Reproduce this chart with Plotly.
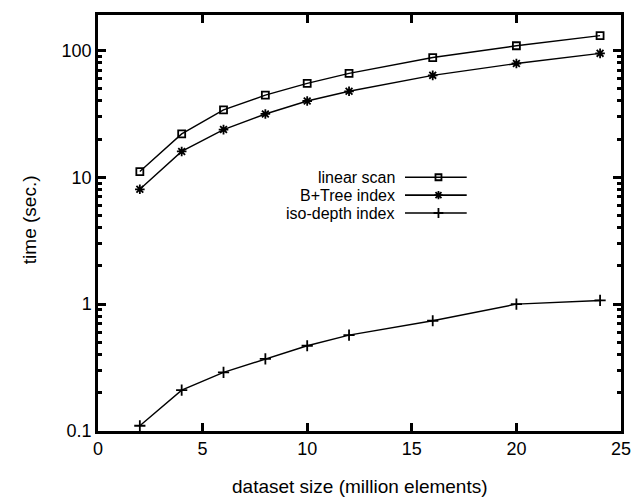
import plotly.graph_objects as go

sizes = [2, 4, 6, 8, 10, 12, 16, 20, 24]
linear_scan = [11.1, 22, 34, 44.5, 55, 66, 88, 109, 131]
btree_index = [8.05, 16, 23.8, 31.6, 40, 47.7, 63.7, 79, 95]
iso_depth_index = [0.11, 0.21, 0.29, 0.37, 0.47, 0.57, 0.74, 1.0, 1.07]
series_names = ["linear scan", "B+Tree index", "iso-depth index"]
y_tick_vals = [0.1, 1, 10, 100]
y_tick_text = ["0.1", "1", "10", "100"]
x_tick_vals = [0, 5, 10, 15, 20, 25]

FONT = "Liberation Sans, Arial, sans-serif"
symbols = ["square-open", "asterisk-open", "cross-thin-open"]
msizes = [7, 8, 8]
series = [linear_scan, btree_index, iso_depth_index]

X_RANGE = [0, 25]
Y_RANGE = [-1, 2.28]  # log10


def px(f):  # paper fraction -> x data
    return X_RANGE[0] + f * (X_RANGE[1] - X_RANGE[0])


def py(f):  # paper fraction -> y data (log axis)
    return 10 ** (Y_RANGE[0] + f * (Y_RANGE[1] - Y_RANGE[0]))


fig = go.Figure()
for name, ys, sym, ms in zip(series_names, series, symbols, msizes):
    fig.add_trace(go.Scatter(
        x=sizes, y=ys, mode="lines+markers", name=name,
        line=dict(color="black", width=1.4),
        marker=dict(symbol=sym, size=ms, color="black",
                    line=dict(color="black", width=1.8)),
        showlegend=False,
    ))

# manual legend: text on the left, line sample on the right
leg_y = [0.610, 0.567, 0.524]
for name, sym, ms, ly in zip(series_names, symbols, msizes, leg_y):
    fig.add_trace(go.Scatter(
        x=[px(0.587), px(0.705)], y=[py(ly), py(ly)], mode="lines",
        line=dict(color="black", width=1.6), showlegend=False, hoverinfo="skip"))
    fig.add_trace(go.Scatter(
        x=[px(0.651)], y=[py(ly)], mode="markers",
        marker=dict(symbol=sym, size=ms - 1, color="black",
                    line=dict(color="black", width=1.8)),
        showlegend=False, hoverinfo="skip"))
    fig.add_annotation(x=0.571, y=ly, xref="paper", yref="paper", text=name,
                       showarrow=False, xanchor="right", yanchor="middle",
                       font=dict(family=FONT, size=16, color="black"))

minor_vals = [v * m for v in [0.1, 1, 10, 100] for m in range(2, 10) if v * m < 190]

fig.update_layout(
    width=643, height=499,
    margin=dict(l=98, r=20, t=12, b=68),
    plot_bgcolor="white", paper_bgcolor="white",
    font=dict(family=FONT, size=18, color="black"),
    xaxis=dict(range=X_RANGE, tickvals=x_tick_vals, ticks="inside", ticklen=8,
               tickwidth=2.5, tickcolor="black", showline=True, linecolor="black",
               linewidth=2.5, mirror="ticks", showgrid=False, zeroline=False,
               tickfont=dict(size=18)),
    yaxis=dict(type="log", range=Y_RANGE, tickvals=y_tick_vals,
               ticktext=y_tick_text, ticks="inside", ticklen=8, tickwidth=2.5,
               tickcolor="black", showline=True, linecolor="black", linewidth=2.5,
               mirror="ticks", showgrid=False, zeroline=False,
               tickfont=dict(size=18),
               minor=dict(tickvals=minor_vals, ticks="inside", ticklen=4,
                          tickwidth=2.5, tickcolor="black", showgrid=False)),
    showlegend=False,
)

fig.add_annotation(x=0.5, y=-0.134, xref="paper", yref="paper",
                   text="dataset size (million elements)", showarrow=False,
                   xanchor="center", yanchor="middle",
                   font=dict(family=FONT, size=19, color="black"))
fig.add_annotation(x=-0.131, y=0.508, xref="paper", yref="paper",
                   text="time (sec.)", showarrow=False, textangle=-90,
                   xanchor="center", yanchor="middle",
                   font=dict(family=FONT, size=19, color="black"))

fig.write_html("out.html")
